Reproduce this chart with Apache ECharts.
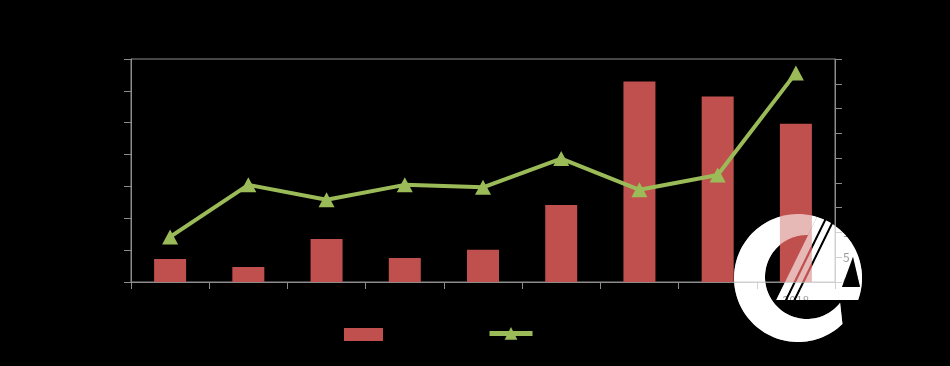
<!DOCTYPE html>
<html>
<head>
<meta charset="utf-8">
<script src="https://cdn.jsdelivr.net/npm/echarts@6/dist/echarts.min.js"></script>
<style>
html,body{margin:0;padding:0;background:#000;}
#chart{width:950px;height:366px;}
</style>
</head>
<body>
<div id="chart"></div>
<script>
// ---- data ----
var categories = ['2010', '2011', '2012', '2013', '2014', '2015', '2016', '2017', '2018'];
var barName = '数量';
var lineName = '同比增长';
var barValues = [7.2, 4.7, 13.5, 7.5, 10.1, 24.2, 62.9, 58.2, 49.7];
var lineValues = [9.1, 19.6, 16.6, 19.6, 19.1, 24.9, 18.6, 21.6, 42.2];
var leftTicks = {min: 0, max: 70, interval: 10};
var rightTicks = {min: 0, max: 45, interval: 5};

// ---- watermark logo (decoration only, not data) ----
var LC = [798, 278], LR = 64, IC = [807, 277], IR = 42, K = 0.49, YB = 300;
function arcPts(c, r, a0, a1, n) {
  var pts = [];
  for (var i = 0; i <= n; i++) {
    var a = (a0 + (a1 - a0) * i / n) * Math.PI / 180;
    pts.push([c[0] + r * Math.cos(a), c[1] + r * Math.sin(a)]);
  }
  return pts;
}
function lineX(c, y) { return c - K * (y - 225); }
function lineTopY(c) {
  var a = c - LC[0] + 225 * K;
  var A = 1 + K * K, B = -(2 * a * K + 2 * LC[1]), C = a * a + LC[1] * LC[1] - LR * LR;
  return (-B - Math.sqrt(B * B - 4 * A * C)) / (2 * A);
}
function band(c1, c2) {
  var y1 = lineTopY(c1), y2 = lineTopY(c2);
  return [[lineX(c1, y1), y1], [lineX(c2, y2), y2], [lineX(c2, YB), YB], [lineX(c1, YB), YB]];
}
function restRegion(c) {
  var y = lineTopY(c), x = lineX(c, y);
  var a0 = Math.atan2(y - LC[1], x - LC[0]) * 180 / Math.PI;
  var a1 = Math.asin((YB - LC[1]) / LR) * 180 / Math.PI;
  return [[lineX(c, YB), YB]].concat(arcPts(LC, LR, a0, a1, 30));
}
function ringRegion() {
  var y = lineTopY(813), x = lineX(813, y);
  var aTop = Math.atan2(y - LC[1], x - LC[0]) * 180 / Math.PI;
  var outer = arcPts(LC, LR, aTop, -314, 80);
  var inner = arcPts(IC, IR, -322, -88.6, 80);
  return outer.concat(inner);
}
function logo(opacity, z) {
  var shapes = [ringRegion(), band(813, 821.5), band(824, 830), restRegion(832.5)];
  var els = shapes.map(function (p) {
    return {type: 'polygon', shape: {points: p}, style: {fill: '#fff', opacity: opacity}, z: z, silent: true};
  });
  els.push({type: 'polygon', shape: {points: [[853, 257], [842, 287], [860, 287]]},
    style: {fill: '#000'}, z: z + 1, silent: true});
  return els;
}

var chart = echarts.init(document.getElementById('chart'), null, {renderer: 'canvas'});
var axisGray = '#8c8c8c';
chart.setOption({
  backgroundColor: '#000',
  animation: false,
  textStyle: {fontFamily: 'Noto Sans CJK SC'},
  grid: {left: 131, right: 115, top: 59, bottom: 84, show: true,
    borderColor: axisGray, borderWidth: 1, backgroundColor: 'transparent'},
  legend: [
    {data: [{name: barName, icon: 'rect'}], left: 339, top: 323, itemWidth: 39, itemHeight: 13,
      textStyle: {color: '#000', fontSize: 12}},
    {data: [lineName], left: 482, top: 322, itemWidth: 43, itemHeight: 16,
      lineStyle: {width: 5}, textStyle: {color: '#000', fontSize: 12}}
  ],
  xAxis: {
    type: 'category', data: categories, boundaryGap: true,
    axisLine: {lineStyle: {color: axisGray, width: 1}},
    axisTick: {show: true, length: 7, lineStyle: {color: axisGray}},
    axisLabel: {color: '#000', fontSize: 12, margin: 12},
    splitLine: {show: false}
  },
  yAxis: [
    {type: 'value', min: leftTicks.min, max: leftTicks.max, interval: leftTicks.interval,
      axisLine: {show: true, lineStyle: {color: axisGray}},
      axisTick: {show: true, length: 7, lineStyle: {color: axisGray}},
      axisLabel: {color: '#000', fontSize: 12},
      splitLine: {show: false}},
    {type: 'value', position: 'right', min: rightTicks.min, max: rightTicks.max, interval: rightTicks.interval,
      axisLine: {show: true, lineStyle: {color: axisGray}},
      axisTick: {show: true, length: 7, lineStyle: {color: axisGray}},
      axisLabel: {color: '#000', fontSize: 12},
      splitLine: {show: false}}
  ],
  series: [
    {name: barName, type: 'bar', data: barValues, yAxisIndex: 0, barWidth: 32,
      itemStyle: {color: '#C0504D'}, z: 2},
    {name: lineName, type: 'line', data: lineValues, yAxisIndex: 1,
      symbol: 'triangle', symbolSize: [16, 15], showSymbol: true,
      lineStyle: {color: '#9BBB59', width: 4},
      itemStyle: {color: '#9BBB59'}, z: 3}
  ],
  graphic: {elements: logo(1, -1).concat(logo(0.6, 100))}
});
</script>
</body>
</html>
